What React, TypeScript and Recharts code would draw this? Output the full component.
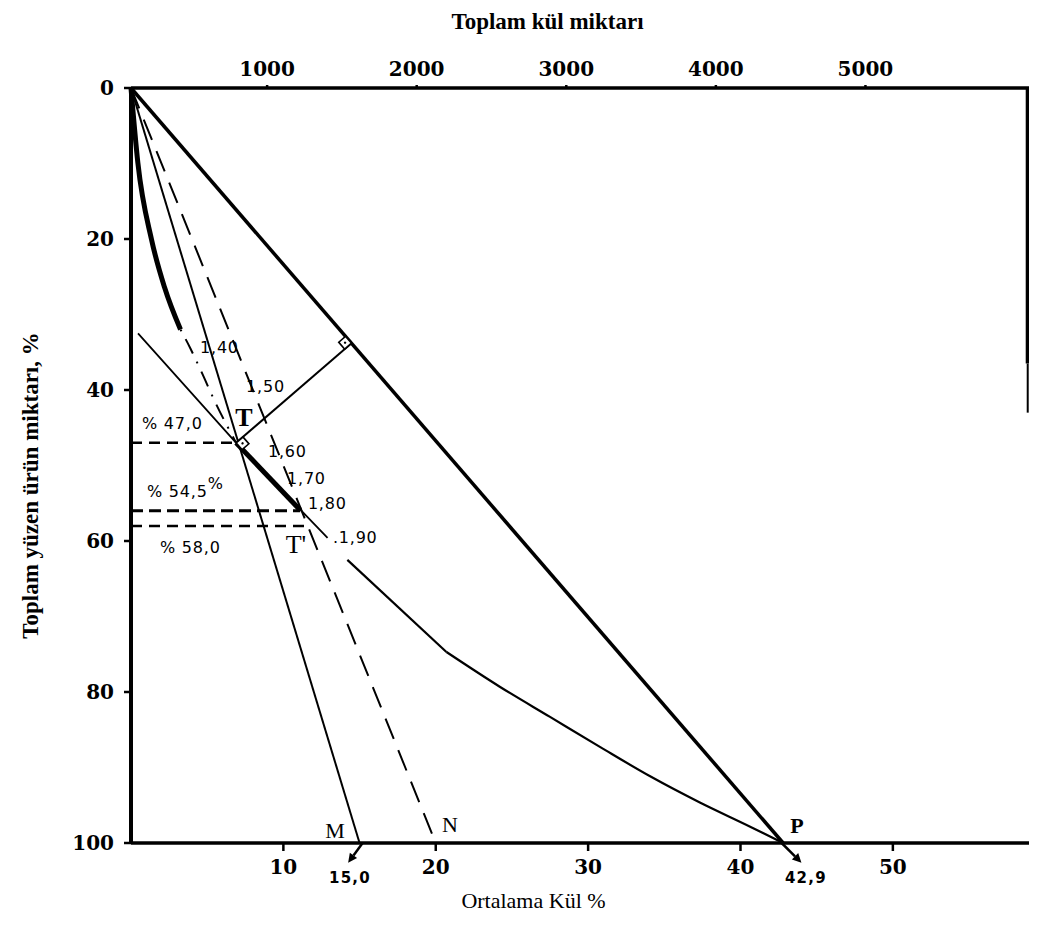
import React from "react";
import { ComposedChart, Line, XAxis, YAxis, ReferenceLine, ReferenceDot } from "recharts";

// ---- axis ticks ----
const bottomTicks = [10, 20, 30, 40, 50];
const topTicks = [1000, 2000, 3000, 4000, 5000];
const leftTicks = [0, 20, 40, 60, 80, 100];
const topAxisSpan = [
  { x: 90, y: 0 },
  { x: 6100, y: 0 },
];

// ---- series (x = Ortalama Kül %, y = Toplam yüzen ürün miktarı %) ----
const primaryCurve = [
  { x: 0, y: 0 },
  { x: 0.45, y: 9.9 },
  { x: 1.35, y: 20.1 },
  { x: 2.2, y: 26.4 },
  { x: 3.25, y: 32 },
];
const primaryCurveTail = [
  { x: 3.25, y: 32 },
  { x: 3.9, y: 34.5 },
  { x: 4.6, y: 37.5 },
  { x: 5.5, y: 41.5 },
  { x: 6.9, y: 47 },
];
const lineOM = [
  { x: 0, y: 0 },
  { x: 15.0, y: 100 },
];
const lineON = [
  { x: 0, y: 0 },
  { x: 20.0, y: 100 },
];
const lineOP = [
  { x: 0, y: 0 },
  { x: 42.8, y: 100 },
];
const perpendicular = [
  { x: 6.9, y: 47 },
  { x: 14.47, y: 33.8 },
];
const tangent = [
  { x: 0.46, y: 32.5 },
  { x: 6.9, y: 47 },
  { x: 12.9, y: 59.6 },
];
const tangentHeavy = [
  { x: 6.9, y: 47 },
  { x: 11.1, y: 55.9 },
];
const lowerCurveStart = [
  { x: 14.2, y: 62.5 },
  { x: 20.7, y: 74.7 },
];
const lowerCurveEnd = [
  { x: 20.7, y: 74.7 },
  { x: 24.2, y: 79.3 },
  { x: 27.5, y: 83.3 },
  { x: 30.8, y: 87.3 },
  { x: 34.1, y: 91.2 },
  { x: 37.3, y: 94.6 },
  { x: 40.6, y: 97.8 },
  { x: 42.8, y: 100 },
];
const level47 = [
  { x: 0, y: 47 },
  { x: 6.9, y: 47 },
];
const level545 = [
  { x: 0, y: 56 },
  { x: 11.1, y: 56 },
];
const level58 = [
  { x: 0, y: 58 },
  { x: 11.6, y: 58 },
];

// right frame pieces (thick upper part, thin lower part)
const rightFrameThick = [
  { x: 58.85, y: 0 },
  { x: 58.85, y: 36.5 },
];
const rightFrameThin = [
  { x: 58.85, y: 36.5 },
  { x: 58.85, y: 43 },
];

// arrows to the read-off values
const arrows = [
  { from: { x: 15.2, y: 100 }, to: { x: 14.25, y: 102.6 } },
  { from: { x: 42.7, y: 100 }, to: { x: 44.0, y: 102.6 } },
];

// right-angle marks (at the foot on OP and at T)
const rightAngles = [
  { x: 14.47, y: 33.8, side: -1 },
  { x: 6.9, y: 47, side: 1 },
];

// density labels along the tangent
const densityLabels = [
  { text: "1,40", x: 4.53, y: 34.4 },
  { text: "1,50", x: 7.55, y: 39.6 },
  { text: "1,60", x: 8.99, y: 48.2 },
  { text: "1,70", x: 10.24, y: 51.7 },
  { text: "1,80", x: 11.61, y: 55.0 },
  { text: ".1,90", x: 13.25, y: 59.5 },
];
const levelLabels = [
  { text: "% 47,0", sup: "", x: 0.72, y: 44.4 },
  { text: "% 54,5", sup: "%", x: 1.05, y: 53.5 },
  { text: "% 58,0", sup: "", x: 1.9, y: 60.8 },
];
const pointLabels = [
  { text: "T", x: 7.41, y: 43.6, bold: true },
  { text: "T'", x: 10.83, y: 60.4, bold: false },
  { text: "M", x: 13.39, y: 98.3, bold: false },
  { text: "N", x: 20.93, y: 97.6, bold: false },
  { text: "P", x: 43.7, y: 97.7, bold: true },
];
const valueLabels = [
  { text: "15,0", x: 14.37, y: 104.6 },
  { text: "42,9", x: 44.29, y: 104.6 },
];

const SERIF = "'Liberation Serif', 'DejaVu Serif', serif";
const TICKSERIF = "'DejaVu Serif', 'Liberation Serif', serif";
const SANS = "'DejaVu Sans', 'Noto Sans', sans-serif";

const tickStyle = { fill: "#000", fontFamily: TICKSERIF, fontWeight: "bold", fontSize: 20 } as any;

const ArrowShape = (p: any) => {
  const { x1, y1, x2, y2 } = p;
  const ang = Math.atan2(y2 - y1, x2 - x1);
  const L = 9;
  const W = 4.5;
  const bx = x2 - L * Math.cos(ang);
  const by = y2 - L * Math.sin(ang);
  const px = -Math.sin(ang) * W;
  const py = Math.cos(ang) * W;
  return (
    <g>
      <line x1={x1} y1={y1} x2={bx} y2={by} stroke="#000" strokeWidth={2.5} />
      <polygon points={`${x2},${y2} ${bx + px},${by + py} ${bx - px},${by - py}`} fill="#000" />
    </g>
  );
};

const makeFrameLine = (w: number) => (p: any) => (
  <line x1={p.x1} y1={p.y1} x2={p.x2} y2={p.y2} stroke="#000" strokeWidth={w} />
);

const makeSquare = (side: number) => (p: any) => {
  const cx = p.cx + side * 6.4;
  const cy = p.cy + side * 0.5;
  return (
    <g transform={`translate(${cx},${cy}) rotate(49)`}>
      <rect x={-4.5} y={-4.5} width={9} height={9} fill="#fff" stroke="#000" strokeWidth={1.6} />
      <circle cx={0} cy={0} r={1.2} fill="#000" />
    </g>
  );
};

const makeText = (text: string, opts: any) => (p: any) => (
  <text
    x={p.cx}
    y={p.cy}
    textAnchor={opts.anchor || "start"}
    dominantBaseline="central"
    fontFamily={opts.family}
    fontSize={opts.size}
    fontWeight={opts.weight || "normal"}
    letterSpacing={opts.spacing || 0}
    fill="#000"
  >
    {text}
    {opts.sup ? (
      <tspan dy={-9} fontSize={opts.size}>
        {opts.sup}
      </tspan>
    ) : null}
  </text>
);

const YTitle = (props: any) => {
  const vb = props.viewBox || { x: 0, y: 80, width: 123, height: 755 };
  const cx = vb.x + 22;
  const cy = vb.y + vb.height / 2 + 20;
  return (
    <text
      x={cx}
      y={cy}
      transform={`rotate(-90 ${cx} ${cy})`}
      textAnchor="middle"
      dominantBaseline="central"
      fontFamily={SERIF}
      fontWeight="bold"
      fontSize={23}
      fill="#000"
    >
      Toplam yüzen ürün miktarı, %
    </text>
  );
};

const TopTitle = (props: any) => {
  const vb = props.viewBox || { x: 123, y: 0, width: 899, height: 80 };
  return (
    <text
      x={vb.x + vb.width / 2 - 33}
      y={vb.y + 13}
      textAnchor="middle"
      dominantBaseline="central"
      fontFamily={SERIF}
      fontWeight="bold"
      fontSize={23}
      fill="#000"
    >
      Toplam kül miktarı
    </text>
  );
};

const BottomTitle = (props: any) => {
  const vb = props.viewBox || { x: 123, y: 835, width: 899, height: 82 };
  return (
    <text
      x={vb.x + vb.width / 2 - 47}
      y={vb.y + 57}
      textAnchor="middle"
      dominantBaseline="central"
      fontFamily={SERIF}
      fontSize={22}
      fill="#000"
    >
      Ortalama Kül %
    </text>
  );
};

const common = {
  xAxisId: "b",
  yAxisId: "l",
  dataKey: "y",
  dot: false,
  activeDot: false,
  isAnimationActive: false,
  stroke: "#000",
  legendType: "none" as any,
};

export default function App() {
  return (
    <div style={{ width: 1029, height: 917 }}>
      <ComposedChart width={1029} height={917} margin={{ top: 0, right: 7, bottom: 0, left: 0 }}>
        <XAxis
          xAxisId="b"
          orientation="bottom"
          type="number"
          dataKey="x"
          domain={[0, 59]}
          ticks={bottomTicks}
          height={82}
          tickSize={8}
          tickMargin={9}
          tick={tickStyle}
          axisLine={{ stroke: "#000", strokeWidth: 3.5 }}
          tickLine={{ stroke: "#000", strokeWidth: 2.5 }}
          label={<BottomTitle />}
        />
        <XAxis
          xAxisId="t"
          orientation="top"
          type="number"
          dataKey="x"
          domain={[90, 6100]}
          allowDataOverflow
          ticks={topTicks}
          height={80}
          tickSize={3}
          tickMargin={9}
          tick={tickStyle}
          axisLine={{ stroke: "#000", strokeWidth: 3.5 }}
          tickLine={{ stroke: "#000", strokeWidth: 2.5 }}
          label={<TopTitle />}
        />
        <YAxis
          yAxisId="l"
          orientation="left"
          type="number"
          dataKey="y"
          domain={[0, 100]}
          reversed
          ticks={leftTicks}
          width={123}
          tickSize={7}
          tickMargin={10}
          tick={tickStyle}
          axisLine={{ stroke: "#000", strokeWidth: 4 }}
          tickLine={{ stroke: "#000", strokeWidth: 2.5 }}
          label={<YTitle />}
        />

        <Line
          xAxisId="t"
          yAxisId="l"
          dataKey="y"
          data={topAxisSpan}
          stroke="none"
          strokeWidth={0}
          dot={false}
          activeDot={false}
          isAnimationActive={false}
          legendType="none"
        />

        <Line {...common} data={lineOP} type="linear" strokeWidth={3.5} />
        <Line {...common} data={lineOM} type="linear" strokeWidth={2} />
        <Line {...common} data={lineON} type="linear" strokeWidth={2} strokeDasharray="22 12" />
        <Line {...common} data={primaryCurve} type="monotone" strokeWidth={5} />
        <Line {...common} data={primaryCurveTail} type="monotone" strokeWidth={2} strokeDasharray="2 9 16 9" />
        <Line {...common} data={tangent} type="linear" strokeWidth={1.8} />
        <Line {...common} data={tangentHeavy} type="linear" strokeWidth={5} />
        <Line {...common} data={perpendicular} type="linear" strokeWidth={2} />
        <Line {...common} data={lowerCurveStart} type="linear" strokeWidth={2.2} />
        <Line {...common} data={lowerCurveEnd} type="monotone" strokeWidth={2.2} />
        <Line {...common} data={level47} type="linear" strokeWidth={2.5} strokeDasharray="11 7" />
        <Line {...common} data={level545} type="linear" strokeWidth={3} strokeDasharray="12 6" />
        <Line {...common} data={level58} type="linear" strokeWidth={2.5} strokeDasharray="11 7" />

        <ReferenceLine
          xAxisId="b"
          yAxisId="l"
          segment={[rightFrameThick[0], rightFrameThick[1]]}
          ifOverflow="visible"
          shape={makeFrameLine(4)}
        />
        <ReferenceLine
          xAxisId="b"
          yAxisId="l"
          segment={[rightFrameThin[0], rightFrameThin[1]]}
          ifOverflow="visible"
          shape={makeFrameLine(2)}
        />

        {arrows.map((a, i) => (
          <ReferenceLine
            key={"ar" + i}
            xAxisId="b"
            yAxisId="l"
            segment={[a.from, a.to]}
            ifOverflow="visible"
            shape={ArrowShape}
          />
        ))}

        {rightAngles.map((r, i) => (
          <ReferenceDot
            key={"ra" + i}
            xAxisId="b"
            yAxisId="l"
            x={r.x}
            y={r.y}
            ifOverflow="visible"
            shape={makeSquare(r.side)}
          />
        ))}

        {densityLabels.map((d, i) => (
          <ReferenceDot
            key={"dl" + i}
            xAxisId="b"
            yAxisId="l"
            x={d.x}
            y={d.y}
            ifOverflow="visible"
            shape={makeText(d.text, { family: SANS, size: 16, spacing: 0.8 })}
          />
        ))}

        {levelLabels.map((d, i) => (
          <ReferenceDot
            key={"ll" + i}
            xAxisId="b"
            yAxisId="l"
            x={d.x}
            y={d.y}
            ifOverflow="visible"
            shape={makeText(d.text, { family: SANS, size: 16, spacing: 0.8, sup: d.sup })}
          />
        ))}

        {pointLabels.map((d, i) => (
          <ReferenceDot
            key={"pl" + i}
            xAxisId="b"
            yAxisId="l"
            x={d.x}
            y={d.y}
            ifOverflow="visible"
            shape={makeText(d.text, {
              family: SERIF,
              size: d.text.startsWith("T") ? 26 : 22,
              weight: d.bold ? "bold" : "normal",
              anchor: "middle",
            })}
          />
        ))}

        {valueLabels.map((d, i) => (
          <ReferenceDot
            key={"vl" + i}
            xAxisId="b"
            yAxisId="l"
            x={d.x}
            y={d.y}
            ifOverflow="visible"
            shape={makeText(d.text, { family: SANS, size: 15, weight: "bold", anchor: "middle", spacing: 1.2 })}
          />
        ))}
      </ComposedChart>
    </div>
  );
}
